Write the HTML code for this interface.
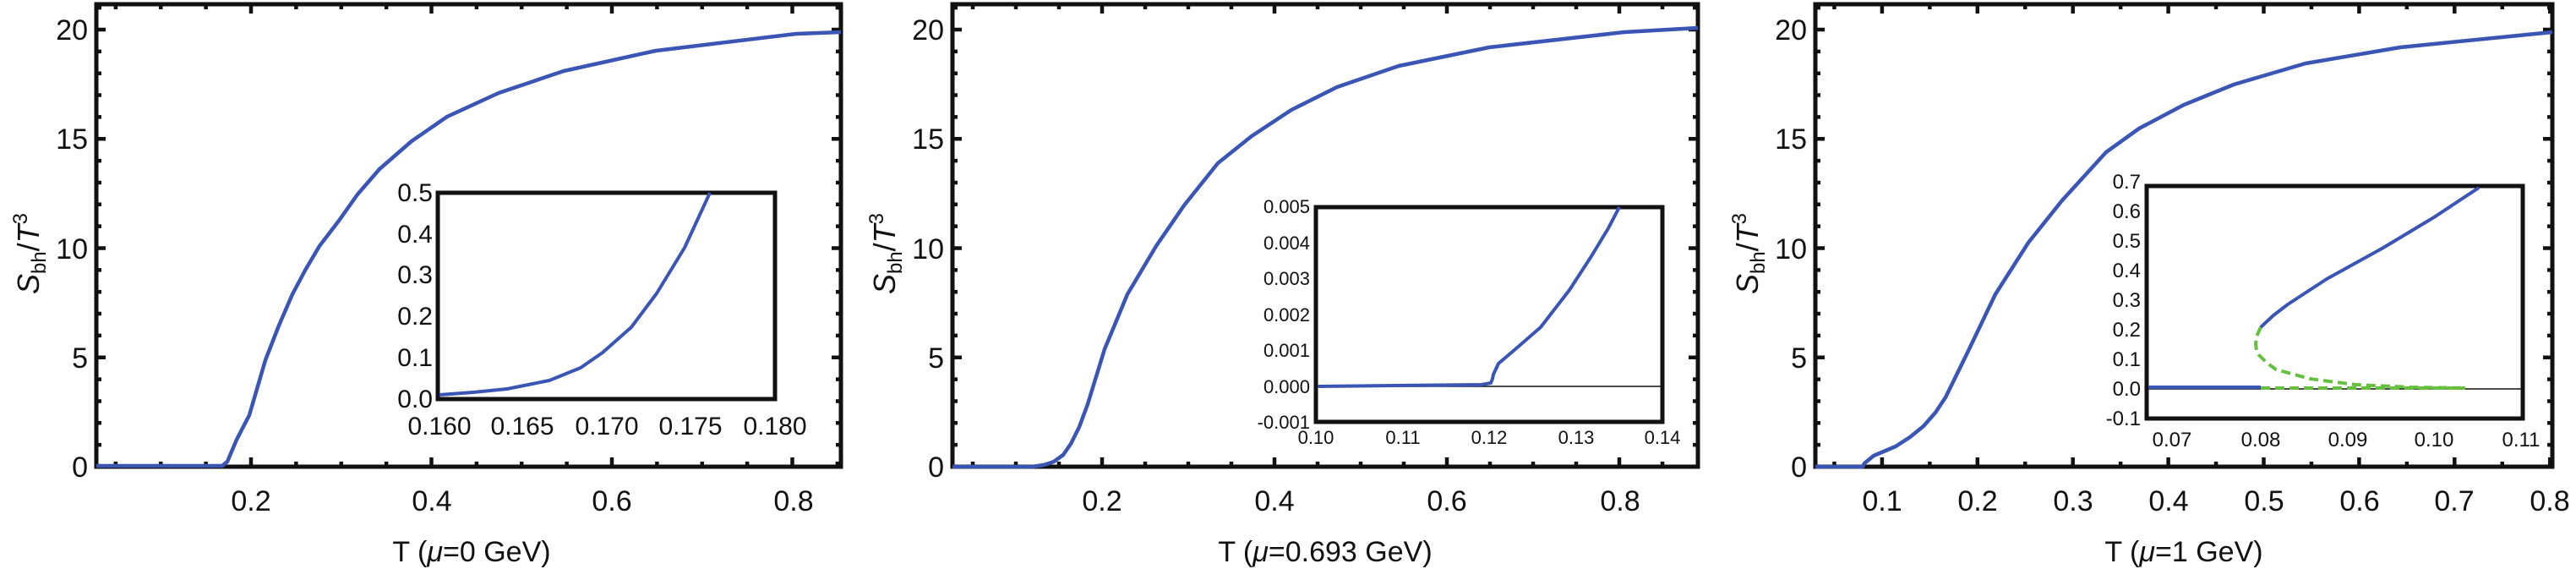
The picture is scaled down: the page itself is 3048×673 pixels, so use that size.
<!DOCTYPE html>
<html><head><meta charset="utf-8"><style>
html,body{margin:0;padding:0;background:#fff;}
svg{display:block;}
text{font-family:"Liberation Sans Narrow","Liberation Sans",sans-serif;fill:#111;}
</style></head><body>
<svg id="s" width="3048" height="673" viewBox="0 0 3048 673" xmlns="http://www.w3.org/2000/svg">
<g id="ticks" stroke="#111" fill="none"></g>

<!-- Panel 1 -->
<rect x="114" y="5" width="881" height="547" fill="none" stroke="#111" stroke-width="5"/>
<g font-size="34" text-anchor="end">
<text x="104" y="564">0</text><text x="104" y="435">5</text><text x="104" y="306">10</text><text x="104" y="176">15</text><text x="104" y="47">20</text>
</g>
<g font-size="34" text-anchor="middle">
<text x="297" y="604">0.2</text><text x="511" y="604">0.4</text><text x="724" y="604">0.6</text><text x="939" y="604">0.8</text>
<text x="558" y="664" font-size="34">T (<tspan font-style="italic">μ</tspan>=0 GeV)</text>
</g>
<text transform="translate(46,300) rotate(-90)" font-size="36" text-anchor="middle"><tspan font-style="italic">S</tspan><tspan font-size="24" dy="8">bh</tspan><tspan dy="-8">/</tspan><tspan font-style="italic">T</tspan><tspan font-size="24" dy="-14">3</tspan></text>
<polyline fill="none" stroke="#3a55b4" stroke-width="4.5" stroke-linejoin="round" points="114,551 263,551 269,546 280,520 295,491 314,426 330,385 346,348 362,318 378,291 401,261 423,230 449,200 487,167 529,138 590,110 667,84 776,60 942,40 995,38"/>
<rect x="518" y="228" width="399" height="244" fill="#fff" stroke="#111" stroke-width="5"/>
<g font-size="30" text-anchor="end">
<text x="512" y="482">0.0</text><text x="512" y="433">0.1</text><text x="512" y="384">0.2</text><text x="512" y="335">0.3</text><text x="512" y="287">0.4</text><text x="512" y="238">0.5</text>
</g>
<g font-size="30" text-anchor="middle">
<text x="520" y="514">0.160</text><text x="618" y="514">0.165</text><text x="718" y="514">0.170</text><text x="817" y="514">0.175</text><text x="917" y="514">0.180</text>
</g>
<polyline fill="none" stroke="#3a55b4" stroke-width="4" stroke-linejoin="round" points="520,467 560,464 600,460 650,450 687,435 713,417 747,387 777,347 810,293 840,228"/>

<!-- Panel 2 -->
<rect x="1127" y="5" width="882" height="547" fill="none" stroke="#111" stroke-width="5"/>
<g font-size="34" text-anchor="end">
<text x="1117" y="564">0</text><text x="1117" y="435">5</text><text x="1117" y="306">10</text><text x="1117" y="176">15</text><text x="1117" y="47">20</text>
</g>
<g font-size="34" text-anchor="middle">
<text x="1304" y="604">0.2</text><text x="1508" y="604">0.4</text><text x="1712" y="604">0.6</text><text x="1917" y="604">0.8</text>
<text x="1568" y="664">T (<tspan font-style="italic">μ</tspan>=0.693 GeV)</text>
</g>
<text transform="translate(1059,300) rotate(-90)" font-size="36" text-anchor="middle"><tspan font-style="italic">S</tspan><tspan font-size="24" dy="8">bh</tspan><tspan dy="-8">/</tspan><tspan font-style="italic">T</tspan><tspan font-size="24" dy="-14">3</tspan></text>
<polyline fill="none" stroke="#3a55b4" stroke-width="4.5" stroke-linejoin="round" points="1127,552 1221,552 1235,550 1247,546 1258,538 1267,525 1277,505 1287,478 1307,413 1334,348 1368,291 1401,243 1441,193 1481,161 1528,130 1582,103 1655,78 1762,56 1922,38 2009,33"/>
<rect x="1557" y="245" width="410" height="254" fill="#fff" stroke="#111" stroke-width="5"/>
<line x1="1559" y1="457" x2="1965" y2="457" stroke="#111" stroke-width="1.5"/>
<g font-size="22" text-anchor="end">
<text x="1550" y="507">-0.001</text><text x="1550" y="465">0.000</text><text x="1550" y="422">0.001</text><text x="1550" y="380">0.002</text><text x="1550" y="337">0.003</text><text x="1550" y="295">0.004</text><text x="1550" y="252">0.005</text>
</g>
<g font-size="22" text-anchor="middle">
<text x="1557" y="525">0.10</text><text x="1660" y="525">0.11</text><text x="1762" y="525">0.12</text><text x="1865" y="525">0.13</text><text x="1967" y="525">0.14</text>
</g>
<polyline fill="none" stroke="#3a55b4" stroke-width="4" stroke-linejoin="round" points="1560,457 1753,455 1764,453 1766,448 1767,443 1773,430 1793,413 1823,387 1857,343 1883,303 1903,270 1916,245"/>

<!-- Panel 3 -->
<rect x="2148" y="5" width="872" height="547" fill="none" stroke="#111" stroke-width="5"/>
<g font-size="34" text-anchor="end">
<text x="2138" y="564">0</text><text x="2138" y="435">5</text><text x="2138" y="306">10</text><text x="2138" y="176">15</text><text x="2138" y="47">20</text>
</g>
<g font-size="34" text-anchor="middle">
<text x="2227" y="604">0.1</text><text x="2340" y="604">0.2</text><text x="2453" y="604">0.3</text><text x="2566" y="604">0.4</text><text x="2679" y="604">0.5</text><text x="2792" y="604">0.6</text><text x="2904" y="604">0.7</text><text x="3017" y="604">0.8</text>
<text x="2584" y="664">T (<tspan font-style="italic">μ</tspan>=1 GeV)</text>
</g>
<text transform="translate(2080,300) rotate(-90)" font-size="36" text-anchor="middle"><tspan font-style="italic">S</tspan><tspan font-size="24" dy="8">bh</tspan><tspan dy="-8">/</tspan><tspan font-style="italic">T</tspan><tspan font-size="24" dy="-14">3</tspan></text>
<polyline fill="none" stroke="#3a55b4" stroke-width="4.5" stroke-linejoin="round" points="2148,552 2204,552 2206,548 2217,539 2243,528 2260,517 2276,504 2290,488 2302,470 2328,417 2361,348 2400,287 2440,237 2492,180 2531,152 2584,124 2643,100 2728,75 2840,56 3020,38"/>
<rect x="2540" y="220" width="445" height="275" fill="#fff" stroke="#111" stroke-width="5"/>
<line x1="2542" y1="460" x2="2983" y2="460" stroke="#111" stroke-width="1.5"/>
<g font-size="24" text-anchor="end">
<text x="2533" y="503">-0.1</text><text x="2533" y="468">0.0</text><text x="2533" y="433">0.1</text><text x="2533" y="398">0.2</text><text x="2533" y="363">0.3</text><text x="2533" y="328">0.4</text><text x="2533" y="293">0.5</text><text x="2533" y="258">0.6</text><text x="2533" y="223">0.7</text>
</g>
<g font-size="24" text-anchor="middle">
<text x="2570" y="528">0.07</text><text x="2675" y="528">0.08</text><text x="2778" y="528">0.09</text><text x="2880" y="528">0.10</text><text x="2983" y="528">0.11</text>
</g>
<polyline fill="none" stroke="#3a55b4" stroke-width="4" points="2542,458 2675,458"/>
<polyline fill="none" stroke="#66c03f" stroke-width="4" stroke-dasharray="11,6" points="2675,459 2917,459"/>
<polyline fill="none" stroke="#66c03f" stroke-width="4" stroke-dasharray="11,6" stroke-linejoin="round" points="2675,387 2670,398 2669,407 2670,414 2673,420 2682,429 2693,437 2733,448 2787,455 2853,458 2917,459"/>
<polyline fill="none" stroke="#3a55b4" stroke-width="4" stroke-linejoin="round" points="2675,387 2690,373 2707,360 2753,330 2820,293 2880,257 2933,222"/>
</svg>
<script>
(function(){
var g=document.getElementById('ticks'),d='';
function L(x1,y1,x2,y2){d+='M'+x1+' '+y1+'L'+x2+' '+y2;}
function frame(l,r,t,b,x0,xs,xstep,xn,y0,ys,ystep,yn,maj,mn,majEvery){
 // x ticks
 for(var v=Math.ceil((l-x0)/(xstep*xs)-1e-6)*xstep; ; v=Math.round((v+xstep)*1e6)/1e6){
  var x=x0+v*xs; if(x>r+0.5)break; if(x<l-0.5)continue;
  var isM=Math.abs(Math.round(v/(xstep*majEvery))*xstep*majEvery-v)<1e-6;
  var len=isM?maj:mn; L(x,b,x,b-len); L(x,t,x,t+len);}
 for(var k=0;;k++){var y=y0-k*ys; if(y<t-0.5)break; var len=(k%yn==0)?maj:mn; L(l,y,l+len,y); L(r,y,r-len,y);}
}
// main panels
frame(114,995,5,552,83.5,1067.5,0.05,0,552,25.85,1,5,11,6,4);
frame(1127,2009,5,552,1100,1020,0.05,0,552,25.85,1,5,11,6,4);
frame(2148,3020,5,552,2114,1129,0.05,0,552,25.85,1,5,11,6,2);
var p=document.createElementNS('http://www.w3.org/2000/svg','path');
p.setAttribute('d',d);p.setAttribute('stroke-width','4.5');g.appendChild(p);
d='';
frame(518,917,228,472,518,20000,0.001,0,472,9.76,1,5,8,4,5);
frame(1557,1967,245,499,1557,10250,0.002,0,499,8.5,1,5,8,4,5);
frame(2540,2985,220,495,2540-0.067*10350,10350,0.002,0,495,7.0,1,5,8,4,5);
var q=document.createElementNS('http://www.w3.org/2000/svg','path');
q.setAttribute('d',d);q.setAttribute('stroke-width','3.5');
document.getElementById('s').appendChild(q);
})();
</script>
</body></html>
